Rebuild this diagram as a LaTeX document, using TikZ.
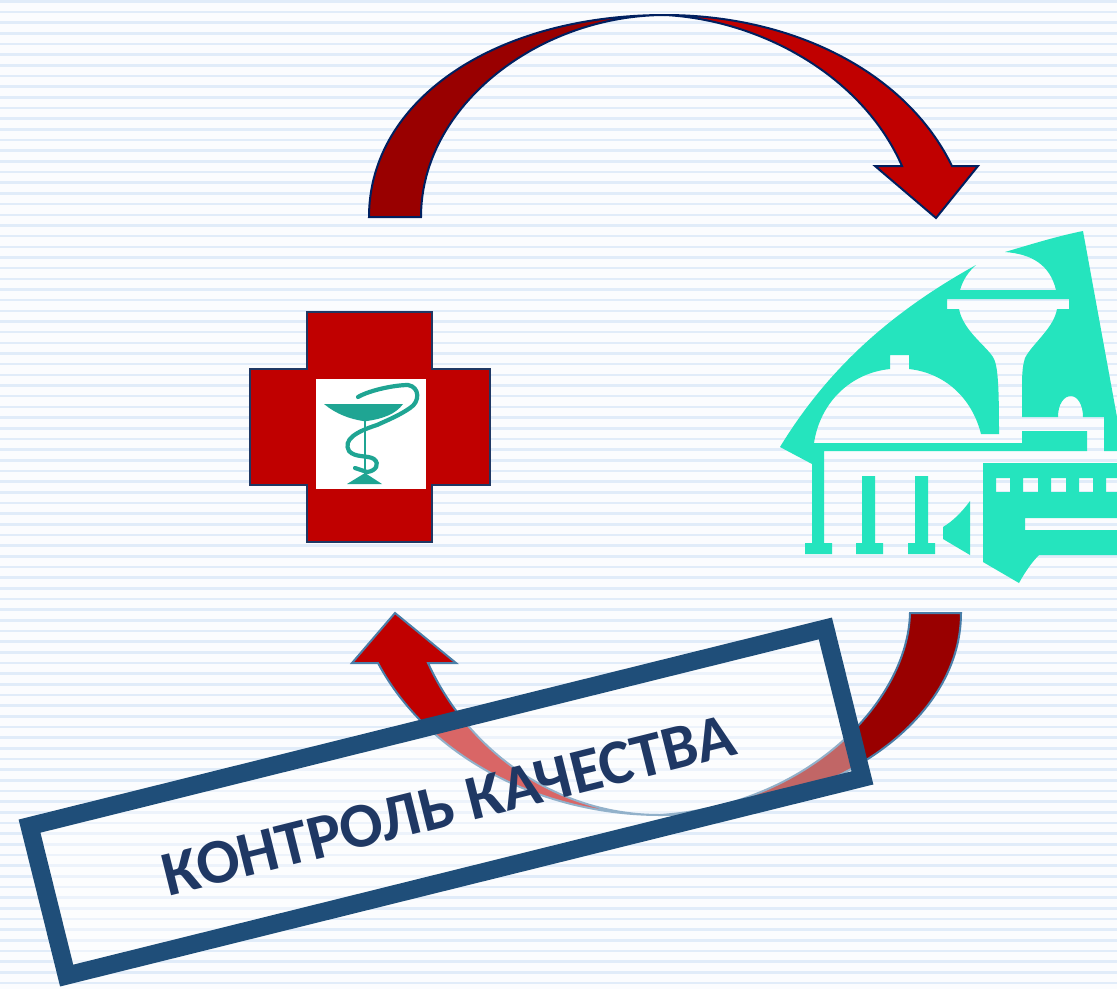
\documentclass[tikz,border=0pt]{standalone}
\usepackage{fontspec}
\setmainfont{Carlito}
\definecolor{pagebg}{HTML}{FBFCFE}
\definecolor{stripecol}{HTML}{E1ECF9}
\definecolor{crossred}{HTML}{C00000}
\definecolor{darkred}{HTML}{990000}
\definecolor{navycol}{HTML}{1F3864}
\definecolor{deepblue}{HTML}{002060}
\definecolor{steelcol}{HTML}{4A7EA8}
\definecolor{framecol}{HTML}{1F4E79}
\definecolor{mintcol}{HTML}{25E4BE}
\definecolor{cupcol}{HTML}{1FA593}
\tikzset{
  arrowlight/.style={fill=crossred, line width=2pt, line join=miter},
  arrowdark/.style={fill=darkred, line width=2pt, line join=miter},
  building/.style={fill=mintcol, even odd rule},
  serpent/.style={draw=cupcol, line width=4.2pt, line cap=round},
}
\begin{document}
\begin{tikzpicture}[x=1pt, y=-1pt]
    \useasboundingbox (0,0) rectangle (1117,989);
    \fill [pagebg] (0,0) rectangle (1117,989);
    \foreach \i in {0,...,92}
        \fill [stripecol] (0,{0.1+10.67*\i}) rectangle (1117,{2.7+10.67*\i});

    % upper arrow
    \draw [arrowdark, draw=deepblue] (369,217) .. controls (369,100) and (495,15) .. (665,15)
        .. controls (540,15) and (421,105) .. (421,217) -- cycle;
    \draw [arrowlight, draw=deepblue] (665,15) .. controls (790,15) and (905,70) .. (952,166)
        -- (978,166) -- (936,218) -- (875,166) -- (902,166)
        .. controls (862,75) and (760,20) .. (665,15) -- cycle;

    % lower arrow
    \draw [arrowdark, draw=steelcol] (961,613) .. controls (961,725) and (825,815) .. (660,815)
        .. controls (810,805) and (908,700) .. (910,613) -- cycle;
    \draw [arrowlight, draw=steelcol] (660,815) .. controls (545,815) and (430,760) .. (378,663)
        -- (352,663) -- (395,613) -- (456,663) -- (428,663)
        .. controls (470,755) and (560,815) .. (660,815) -- cycle;

    % cross
    \draw [fill=crossred, draw=navycol, line width=2.4pt] (307,312) -- (432,312) -- (432,369) -- (490,369)
        -- (490,485) -- (432,485) -- (432,542) -- (307,542) -- (307,485) -- (250,485) -- (250,369)
        -- (307,369) -- cycle;
    \node (cupbox) [fill=white, minimum width=110pt, minimum height=110pt, inner sep=0pt] at (371,434) {};
    \fill [cupcol] (324,404) -- (403,404) .. controls (396,414) and (382,419) .. (367,421)
        -- (363,421) .. controls (350,419) and (336,414) .. cycle;
    \draw [cupcol, line width=2pt] (365,418) -- (365,476);
    \fill [cupcol] (365,473) -- (382,484) -- (347,484) -- cycle;
    \draw [serpent] (358,397) .. controls (370,390) and (395,385) .. (408,385)
        .. controls (420,387) and (420,402) .. (410,408)
        .. controls (400,415) and (388,420) .. (377,425)
        .. controls (355,432) and (343,440) .. (349,451)
        .. controls (355,458) and (368,455) .. (374,459)
        .. controls (380,464) and (376,471) .. (367,472)
        -- (355,468);

    % building
    \fill [building] (780,447) .. controls (830,365) and (895,310) .. (976,265)
        .. controls (968,272) and (963,280) .. (960,290) -- (1056,290)
        .. controls (1050,265) and (1032,254) .. (1005,252)
        .. controls (1032,244) and (1058,236) .. (1083,231) -- (1117,417) -- (1117,451) -- (1104,451)
        -- (1104,417) -- (1083,417) .. controls (1083,404) and (1077,396) .. (1071,396)
        .. controls (1064,396) and (1058,404) .. (1058,417) -- (1022,417) -- (1022,385)
        .. controls (1022,372) and (1023,364) .. (1025,358)
        .. controls (1032,344) and (1054,328) .. (1057,309) -- (1069,309) -- (1069,299) -- (947,299)
        -- (947,309) -- (959,309) .. controls (963,330) and (985,345) .. (993,357)
        .. controls (998,365) and (999,385) .. (999,434) -- (981,434)
        .. controls (972,398) and (945,373) .. (909,369) -- (909,355) -- (890,355) -- (890,369)
        .. controls (850,373) and (820,403) .. (814,443) -- (1022,443) -- (1022,431) -- (1087,431)
        -- (1087,451) -- (824,451) -- (824,543) -- (832,543) -- (832,554) -- (805,554) -- (805,543)
        -- (812,543) -- (812,464) -- cycle;
    \fill [building] (862,476) -- (875,476) -- (875,543) -- (883,543) -- (883,554) -- (856,554)
        -- (856,543) -- (862,543) -- cycle;
    \fill [building] (915,476) -- (928,476) -- (928,543) -- (935,543) -- (935,554) -- (908,554)
        -- (908,543) -- (915,543) -- cycle;
    \fill [building] (970,501) .. controls (962,512) and (953,521) .. (943,527) -- (943,539)
        -- (970,555) -- cycle;
    \fill [building] (983,463) -- (1117,463) -- (1117,518) -- (1025,518) -- (1025,530) -- (1117,530)
        -- (1117,555) -- (1039,555) .. controls (1032,562) and (1025,572) .. (1019,583)
        -- (983,562) -- cycle
        (996,478) rectangle (1010,492)
        (1023,478) rectangle (1038,492)
        (1051,478) rectangle (1066,492)
        (1079,478) rectangle (1093,492)
        (1106,478) rectangle (1117,492);

    % label frame
    \node (qualityframe) [draw=framecol, line width=18pt, fill=white, fill opacity=0.4, rotate=13.95,
        minimum width=820pt, minimum height=154pt, inner sep=0pt] at (446,802) {};
    \node (qualitytext) [rotate=14, text=navycol, font=\fontsize{63.5}{66}\selectfont\bfseries] at (449,805)
        {КОНТРОЛЬ КАЧЕСТВА};
\end{tikzpicture}
\end{document}
